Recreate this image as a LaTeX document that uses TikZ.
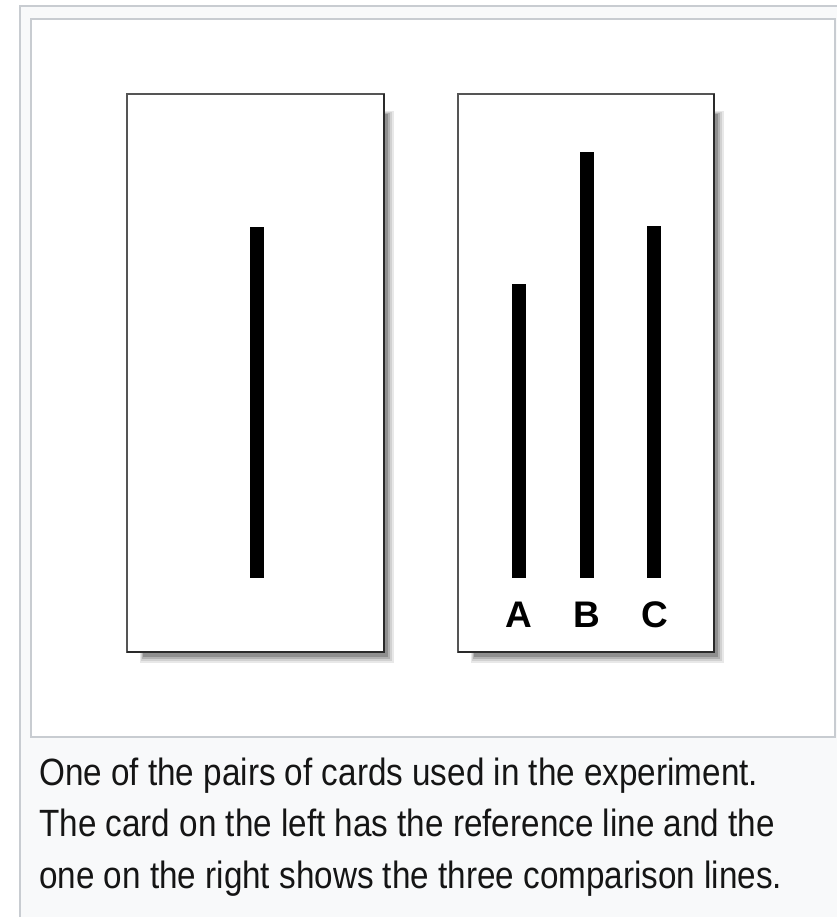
\documentclass[tikz,border=0pt]{standalone}
\usepackage{fontspec}
\setmainfont{Liberation Sans}
\usetikzlibrary{calc}
\definecolor{frame}{HTML}{C8CCD1}
\definecolor{thumbbg}{HTML}{F8F9FA}
\definecolor{cardedge}{HTML}{555555}
\definecolor{carddark}{HTML}{2A2A2A}
\definecolor{captext}{HTML}{151515}
\pgfdeclarelayer{bg}
\pgfdeclarelayer{shadow}
\pgfsetlayers{bg,shadow,main}
\begin{document}
\begin{tikzpicture}[x=1pt,y=-1pt,
  card/.style={draw=cardedge, fill=white, line width=2.8pt, inner sep=0pt, outer sep=0pt, minimum height=558pt},
  bar/.style={fill=black, inner sep=0pt, outer sep=0pt, minimum width=14pt},
  letter/.style={font=\fontsize{37}{37}\selectfont\bfseries, text=black, inner sep=0pt, anchor=base},
  caption/.style={font=\fontsize{38}{38}\selectfont, text=captext, inner sep=0pt, anchor=base west}
]
\useasboundingbox (0,0) rectangle (836,917);
\clip (0,0) rectangle (836,917);

% cards
\node[card, minimum width=257pt] (L) at (255.5,373) {};
\node[card, minimum width=256pt] (R) at (586,373) {};
\foreach \c in {L,R}{
  \draw[carddark, line width=2.8pt] (\c.north east) -- (\c.south east) -- (\c.south west);
}

% backgrounds and shadows
\begin{pgfonlayer}{bg}
  \fill[white] (0,0) rectangle (836,917);
  \draw[frame, fill=thumbbg, line width=2pt] (19.5,6) rectangle (870,950);
  \draw[frame, fill=white, line width=2pt] (31,19) rectangle (835,737);
\end{pgfonlayer}
\begin{pgfonlayer}{shadow}
  \foreach \c in {L,R}{
    \fill[black!9]  ($(\c.north west)+(13,17)$) rectangle ($(\c.south east)+(10,11)$);
    \fill[black!18] ($(\c.north west)+(14,18)$) rectangle ($(\c.south east)+(8,9)$);
    \fill[black!30] ($(\c.north west)+(15,19)$) rectangle ($(\c.south east)+(6,7)$);
    \fill[black!44] ($(\c.north west)+(16,20)$) rectangle ($(\c.south east)+(4,5)$);
  }
\end{pgfonlayer}

% lines
\node[bar, minimum height=351pt] (ref) at (257,402.5) {};
\node[bar, minimum height=294pt] (a) at (519,431) {};
\node[bar, minimum height=426pt] (b) at (587,365) {};
\node[bar, minimum height=352pt] (c) at (654,402) {};

% labels
\node[letter] (la) at (519,627) {A};
\node[letter] (lb) at (587,627) {B};
\node[letter] (lc) at (655,627) {C};

% caption
\node[caption] (cap1) at (39,785) {\scalebox{0.875}[1]{One of the pairs of cards used in the experiment.}};
\node[caption] (cap2) at (39,836.5) {\scalebox{0.875}[1]{The card on the left has the reference line and the}};
\node[caption] (cap3) at (39,888) {\scalebox{0.875}[1]{one on the right shows the three comparison lines.}};
\end{tikzpicture}
\end{document}
